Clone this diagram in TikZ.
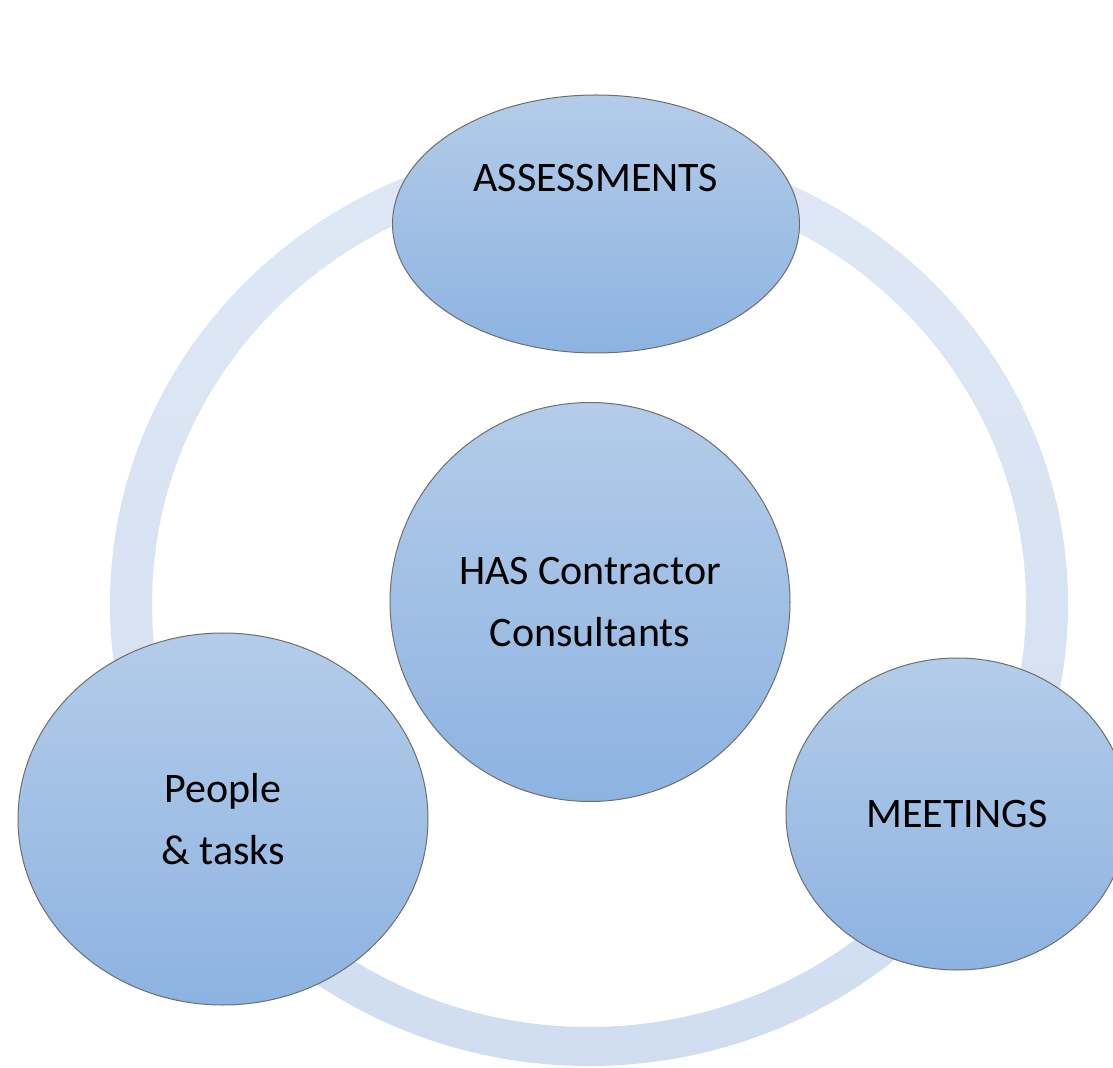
\documentclass[tikz,border=0pt]{standalone}
\usepackage{fontspec}
\setmainfont{Carlito}
\usepackage{xcolor}
\usepackage{tikz}
\usetikzlibrary{shapes.geometric, positioning}
\definecolor{ringtop}{HTML}{DFE8F5}
\definecolor{ringbot}{HTML}{D0DDF0}
\definecolor{blobtop}{HTML}{B3CCE9}
\definecolor{blobbot}{HTML}{8DB3E1}
\definecolor{blobline}{HTML}{6E6E6E}

\begin{document}
\begin{tikzpicture}[x=0.5pt, y=-0.5pt,
    blob/.style={ellipse, draw=blobline, line width=0.5pt, top color=blobtop, bottom color=blobbot, inner sep=0pt, align=center, font=\fontsize{21}{31}\selectfont}
]
\useasboundingbox (0,0) rectangle (1113,1068);

% ring behind the bubbles
\coordinate (ringc) at (589,604);
\shade[top color=ringtop, bottom color=ringbot, even odd rule]
    (ringc) ellipse [x radius=239.5pt, y radius=231pt]
    (ringc) ellipse [x radius=218.5pt, y radius=211.5pt];

\node[blob, minimum width=203.5pt, minimum height=129pt,
    label={[font=\fontsize{21}{31}\selectfont, yshift=23pt]center:ASSESSMENTS}] (assess) at (596,224) {};
\node[blob, minimum width=200pt, minimum height=199.5pt] (hub) at (590,602) {HAS Contractor\\Consultants};
\node[blob, minimum width=205pt, minimum height=186pt] (people) at (223,819) {People\\\& tasks};
\node[blob, minimum width=171pt, minimum height=156pt] (meet) at (957,814) {MEETINGS};

\end{tikzpicture}
\end{document}
